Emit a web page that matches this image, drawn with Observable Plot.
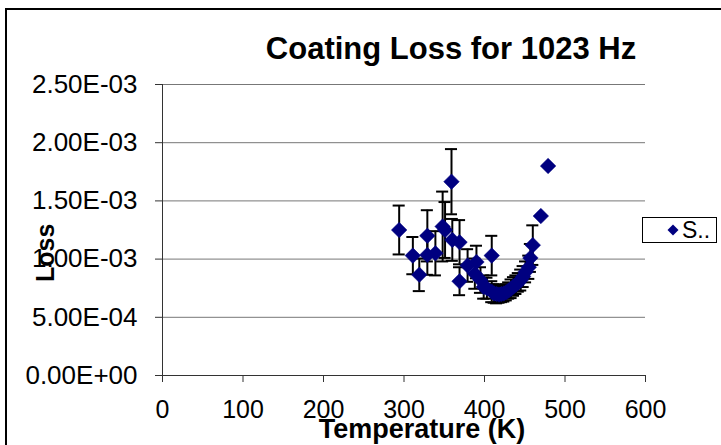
<!DOCTYPE html>
<html><head><meta charset="utf-8">
<script src="https://cdn.jsdelivr.net/npm/d3@7"></script>
<script src="https://cdn.jsdelivr.net/npm/@observablehq/plot@0.6"></script>
<style>
body{margin:0;background:#fff;}
#wrap{position:relative;width:721px;height:445px;overflow:hidden;background:#fff;}
#border{position:absolute;left:5px;top:8px;width:800px;height:500px;border-left:2px solid #000;border-top:2px solid #000;pointer-events:none;}
#legend{position:absolute;left:642px;top:217px;width:73px;height:24px;border:1px solid #000;background:#fff;font:23px "Liberation Sans",Arial,sans-serif;display:flex;align-items:center;}
#legend svg{margin-left:24px;margin-right:3px;}
</style></head><body><div id="wrap"><div id="border"></div></div>
<script>
const temperature = [294,311,319,329,329,339,348,351,359,360,369,369,379,388,390,395,399,403,409,409,412,415,418,421,424,427,430,433,436,439,442,445,448,451,455,457,460,470,479];
const lossE3 = [1.25,1.03,0.865,1.20,1.035,1.05,1.28,1.25,1.665,1.165,1.145,0.81,0.945,0.875,0.975,0.82,0.76,0.75,1.03,0.72,0.705,0.70,0.695,0.70,0.705,0.715,0.73,0.745,0.765,0.78,0.80,0.82,0.85,0.89,0.93,1.01,1.12,1.37,1.80];
const errorE3 = [0.21,0.16,0.14,0.22,0.17,0.19,0.30,0.24,0.28,0.18,0.19,0.12,0.14,0.13,0.14,0.11,0.10,0.09,0.17,0.09,0.08,0.08,0.07,0.07,0.07,0.07,0.07,0.08,0.08,0.08,0.08,0.09,0.09,0.09,0.10,0.12,0.17,0,0];
const xTicks = [0,100,200,300,400,500,600];
const yTicks = [0,0.0005,0.001,0.0015,0.002,0.0025];
const chartTitle = "Coating Loss for 1023 Hz";
const xTitle = "Temperature (K)";
const yTitle = "Loss";
const seriesName = "S..";

const data = temperature.map((t,i)=>({T:t, L:lossE3[i]*1e-3, E:errorE3[i]*1e-3}));
const capHalf = 7.5; // K
const sci = d => {
  if (d === 0) return "0.00E+00";
  const e = Math.floor(Math.log10(d) + 1e-9);
  const m = d / Math.pow(10, e);
  return m.toFixed(2) + "E" + (e < 0 ? "-" : "+") + String(Math.abs(e)).padStart(2, "0");
};
const font = "'Liberation Sans', Arial, sans-serif";
const navy = "#000080";

const chart = Plot.plot({
  width: 721, height: 445,
  marginLeft: 162, marginRight: 76, marginTop: 84, marginBottom: 70,
  style: {fontFamily: font, background: "transparent", color: "#000"},
  x: {domain: [0, 600]},
  y: {domain: [0, 0.0025]},
  marks: [
    Plot.ruleY(yTicks.filter(d => d > 0), {stroke: "#777", strokeWidth: 1}),
    Plot.axisY(yTicks, {tickFormat: sci, tickSize: 7, tickPadding: 18, fontSize: 26, stroke: "#333", label: null}),
    Plot.axisX(xTicks, {tickSize: 7, tickPadding: 18, fontSize: 25, stroke: "#333", label: null}),
    Plot.ruleX([0], {stroke: "#333", strokeWidth: 1}),
    Plot.ruleY([0], {stroke: "#333", strokeWidth: 1}),
    Plot.ruleX(data.filter(d => d.E > 0), {x: "T", y1: d => d.L - d.E, y2: d => d.L + d.E, stroke: "#000", strokeWidth: 2}),
    Plot.ruleY(data.filter(d => d.E > 0), {y: d => d.L + d.E, x1: d => d.T - capHalf, x2: d => d.T + capHalf, stroke: "#000", strokeWidth: 2}),
    Plot.ruleY(data.filter(d => d.E > 0), {y: d => d.L - d.E, x1: d => d.T - capHalf, x2: d => d.T + capHalf, stroke: "#000", strokeWidth: 2}),
    Plot.dot(data, {x: "T", y: "L", symbol: "diamond2", r: 7, fill: navy, stroke: navy, strokeWidth: 0.5}),
    Plot.text([chartTitle], {frameAnchor: "top", dx: 47, dy: -35, lineAnchor: "middle", fontSize: 31, fontWeight: "bold", fill: "#000"}),
    Plot.text([xTitle], {frameAnchor: "bottom", dx: 18, dy: 54, lineAnchor: "middle", fontSize: 27, fontWeight: "bold", fill: "#000"}),
    Plot.text([yTitle], {frameAnchor: "left", dx: -117, dy: 52, rotate: -90, lineAnchor: "middle", fontSize: 25, fontWeight: "bold", fill: "#000"})
  ]
});
const wrap = document.getElementById("wrap");
wrap.insertBefore(chart, wrap.firstChild);
chart.style.position = "absolute"; chart.style.left = "0"; chart.style.top = "0";

const legend = document.createElement("div");
legend.id = "legend";
legend.innerHTML = `<svg width="12" height="12" viewBox="-6 -6 12 12"><path d="M0,-5.5L5.5,0L0,5.5L-5.5,0Z" fill="${navy}"/></svg><span>${seriesName}</span>`;
wrap.appendChild(legend);
</script>
</body></html>
